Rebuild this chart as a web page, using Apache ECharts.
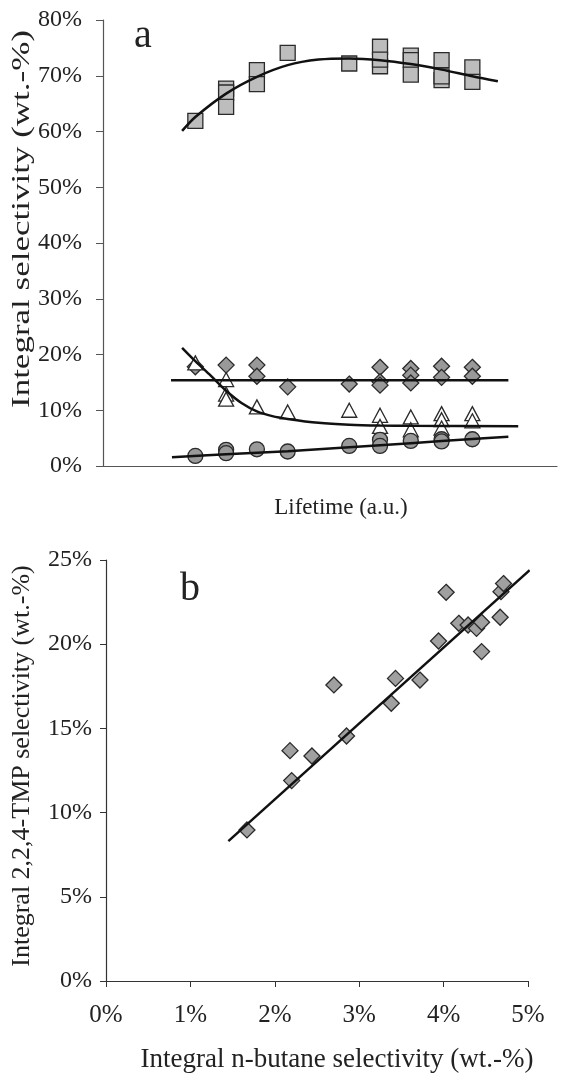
<!DOCTYPE html>
<html>
<head>
<meta charset="utf-8">
<script src="https://cdn.jsdelivr.net/npm/echarts@6.0.0/dist/echarts.min.js"></script>
<style>
  html, body { margin: 0; padding: 0; background: #fff; }
  #chart { width: 565px; height: 1077px; }
</style>
</head>
<body>
<div id="chart"></div>
<script>
// panel a: [lifetime (a.u.), integral selectivity %]
const squarePts = [[3, 61.9], [4, 67.7], [4, 67.0], [4, 64.4], [5, 71.0], [5, 68.5], [6, 74.1], [8, 72.2],
  [9, 75.2], [9, 71.7], [9, 72.9], [10, 73.6], [10, 72.8], [10, 70.2], [11, 72.8], [11, 69.2], [11, 69.9],
  [12, 71.5], [12, 68.9]];
const squareFit = [[2.57, 60.1], [3, 62.6], [4, 66.8], [5, 69.8], [6, 71.9], [7, 72.9], [8, 73.1], [9, 72.8],
  [10, 72.1], [11, 71.1], [12, 69.9], [12.83, 69.0]];

const diamondPts = [[3, 17.8], [4, 18.1], [5, 18.1], [5, 16.1], [6, 14.2], [8, 14.7], [9, 17.7], [9, 15.1],
  [9, 14.5], [10, 17.5], [10, 16.3], [10, 14.9], [11, 17.9], [11, 15.9], [12, 17.7], [12, 16.1]];
const diamondFit = [[2.21, 15.4], [13.17, 15.4]];

const trianglePts = [[3, 18.5], [4, 15.5], [4, 12.9], [4, 12.0], [5, 10.6], [6, 9.7], [8, 10.0], [9, 9.1],
  [9, 7.1], [10, 8.8], [10, 6.5], [11, 9.4], [11, 8.3], [11, 6.8], [12, 9.4], [12, 8.1]];
const triangleFit = [[2.57, 21.2], [3, 18.8], [3.5, 16.2], [4, 13.5], [4.5, 11.3], [5, 9.8], [5.5, 8.95],
  [6, 8.45], [7, 7.75], [8, 7.4], [9, 7.25], [10, 7.2], [13.49, 7.15]];

const circlePts = [[3, 1.8], [4, 2.9], [4, 2.3], [5, 3.0], [6, 2.6], [8, 3.6], [9, 4.7], [9, 3.6],
  [10, 4.5], [11, 4.8], [11, 4.4], [12, 4.8]];
const circleFit = [[2.24, 1.56], [4, 2.1], [6, 2.65], [8, 3.35], [10, 4.1], [12, 4.85], [13.17, 5.26]];

// panel b: [n-butane %, 2,2,4-TMP %]
const butaneTmpPts = [[1.67, 8.97], [2.18, 13.68], [2.20, 11.9], [2.44, 13.36], [2.70, 17.58], [2.85, 14.55],
  [3.38, 16.49], [3.43, 17.97], [3.72, 17.87], [3.94, 20.19], [4.03, 23.08], [4.18, 21.24], [4.29, 21.14],
  [4.39, 20.94], [4.45, 21.3], [4.45, 19.56], [4.67, 21.6], [4.68, 23.12], [4.71, 23.6]];
const butaneTmpFit = [[1.45, 8.31], [5.02, 24.4]];

const serif = "'Liberation Serif', 'Times New Roman', serif";
const ink = '#222';

const chart = echarts.init(document.getElementById('chart'));

const pointSeries = (data, symbol, size, fill, xi) => ({
  type: 'scatter',
  xAxisIndex: xi,
  yAxisIndex: xi,
  data: data,
  symbol: symbol,
  symbolSize: size,
  itemStyle: { color: fill, borderColor: '#2a2a2a', borderWidth: 1.3, opacity: 1 },
  z: 2,
  silent: true,
});

const fitSeries = (data, xi) => ({
  type: 'line',
  xAxisIndex: xi,
  yAxisIndex: xi,
  data: data,
  smooth: 0.3,
  showSymbol: false,
  lineStyle: { color: '#111', width: 2.5 },
  z: 3,
  silent: true,
});

const yLabel = { fontFamily: serif, fontSize: 24, color: ink, formatter: '{value}%' };

chart.setOption({
  animation: false,
  grid: [
    { left: 103, top: 20, width: 454, height: 446 },
    { left: 106, top: 560, width: 422, height: 421 },
  ],
  xAxis: [
    {
      gridIndex: 0, type: 'value', min: 0, max: 14.75,
      axisLine: { lineStyle: { color: '#555', width: 1.2 } },
      axisTick: { show: false }, axisLabel: { show: false }, splitLine: { show: false },
    },
    {
      gridIndex: 1, type: 'value', min: 0, max: 5, interval: 1,
      axisLine: { lineStyle: { color: '#333', width: 1.2 } },
      axisTick: { inside: false, length: 6, lineStyle: { color: '#333' } },
      axisLabel: { fontFamily: serif, fontSize: 25, color: ink, margin: 22, formatter: '{value}%' },
      splitLine: { show: false },
    },
  ],
  yAxis: [
    {
      gridIndex: 0, type: 'value', min: 0, max: 80, interval: 10,
      axisLine: { show: true, lineStyle: { color: '#555', width: 1.2 } },
      axisTick: { show: true, inside: false, length: 7, lineStyle: { color: '#555' } },
      axisLabel: Object.assign({ margin: 21 }, yLabel),
      splitLine: { show: false },
    },
    {
      gridIndex: 1, type: 'value', min: 0, max: 25, interval: 5,
      axisLine: { show: true, lineStyle: { color: '#333', width: 1.2 } },
      axisTick: { show: true, inside: false, length: 6, lineStyle: { color: '#333' } },
      axisLabel: Object.assign({ margin: 14 }, yLabel),
      splitLine: { show: false },
    },
  ],
  series: [
    pointSeries(squarePts, 'rect', 15, '#bdbdbd', 0),
    pointSeries(diamondPts, 'diamond', 16, '#999999', 0),
    pointSeries(trianglePts, 'triangle', [15, 14], '#ffffff', 0),
    pointSeries(circlePts, 'circle', 15, '#999999', 0),
    fitSeries(squareFit, 0),
    fitSeries(diamondFit, 0),
    fitSeries(triangleFit, 0),
    fitSeries(circleFit, 0),
    pointSeries(butaneTmpPts, 'diamond', 16, '#a0a0a0', 1),
    fitSeries(butaneTmpFit, 1),
  ],
  graphic: [
    { type: 'text', x: 143, y: 36, style: { text: 'a', font: '40px ' + serif, fill: ink, textAlign: 'center', textVerticalAlign: 'middle' } },
    { type: 'text', x: 190, y: 589, style: { text: 'b', font: '40px ' + serif, fill: ink, textAlign: 'center', textVerticalAlign: 'middle' } },
    { type: 'text', x: 341, y: 508, style: { text: 'Lifetime (a.u.)', font: '23px ' + serif, fill: ink, textAlign: 'center', textVerticalAlign: 'middle' } },
    { type: 'text', x: 22, y: 219, rotation: Math.PI / 2, scaleX: 1.4,
      style: { text: 'Integral selectivity (wt.-%)', font: '25px ' + serif, fill: ink, textAlign: 'center', textVerticalAlign: 'middle' } },
    { type: 'text', x: 337, y: 1060, style: { text: 'Integral n-butane selectivity (wt.-%)', font: '27px ' + serif, fill: ink, textAlign: 'center', textVerticalAlign: 'middle' } },
    { type: 'text', x: 22, y: 766, rotation: Math.PI / 2,
      style: { text: 'Integral 2,2,4-TMP selectivity (wt.-%)', font: '26px ' + serif, fill: ink, textAlign: 'center', textVerticalAlign: 'middle' } },
  ],
});

window.addEventListener('resize', () => {
  chart.resize();
});
</script>
</body>
</html>
